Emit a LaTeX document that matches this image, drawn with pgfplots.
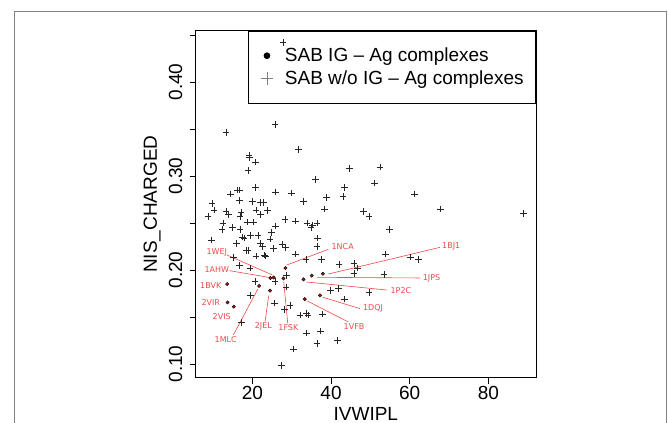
\documentclass[border=0pt]{standalone}
\usepackage{fontspec}
\setmainfont{Liberation Sans}
\newfontfamily\djv{DejaVu Sans}
\usepackage{pgfplots}
\usepackage{pgfplotstable}
\pgfplotsset{compat=1.18}

\definecolor{labred}{RGB}{238,72,72}
\definecolor{ptred}{RGB}{170,20,20}
\definecolor{framegray}{RGB}{130,130,130}

% SAB without IG - Ag complexes
\pgfplotstableread{
x y
27.8 0.442
25.8 0.355
13.3 0.3465
31.8 0.328
19.1 0.322
19.3 0.3195
20.8 0.315
18.9 0.306
44.7 0.308
52.4 0.3096
36.0 0.2965
51.0 0.2926
43.4 0.2876
61.2 0.281
14.4 0.281
16.2 0.285
16.7 0.285
20.8 0.288
25.9 0.283
29.9 0.282
38.8 0.277
43.0 0.278
33.0 0.273
38.3 0.265
67.9 0.265
48.2 0.262
49.6 0.257
88.9 0.260
16.8 0.274
20.0 0.273
22.0 0.272
22.8 0.272
9.7 0.271
10.3 0.264
8.7 0.257
13.3 0.262
13.9 0.259
17.1 0.261
20.9 0.264
22.1 0.259
23.9 0.263
16.9 0.257
12.5 0.250
12.3 0.243
15.0 0.245
16.9 0.243
18.6 0.251
20.3 0.251
25.9 0.247
24.9 0.240
28.3 0.254
30.9 0.252
33.9 0.250
35.3 0.248
36.4 0.250
34.9 0.245
54.9 0.243
9.6 0.232
17.5 0.235
17.9 0.234
19.6 0.237
21.4 0.237
15.9 0.228
22.0 0.228
22.6 0.225
24.5 0.233
25.3 0.223
27.5 0.227
28.4 0.224
36.6 0.234
36.4 0.225
18.4 0.221
18.9 0.221
23.1 0.216
23.4 0.215
20.9 0.215
15.2 0.213
30.9 0.217
33.6 0.211
37.6 0.211
45.8 0.207
42.0 0.206
53.9 0.217
60.2 0.214
62.3 0.211
46.8 0.202
45.8 0.196
53.5 0.195
16.8 0.205
19.4 0.202
20.7 0.188
25.8 0.188
28.7 0.194
28.6 0.182
39.8 0.178
41.9 0.180
49.6 0.176
43.4 0.169
19.5 0.173
25.7 0.165
28.1 0.158
29.6 0.162
32.1 0.152
33.8 0.154
34.1 0.152
37.9 0.153
17.3 0.144
33.8 0.133
37.3 0.135
36.4 0.122
41.6 0.125
30.4 0.116
27.4 0.0986
}\woig

% SAB IG - Ag complexes
\pgfplotstableread{
x y name
28.4 0.202 1NCA
37.9 0.196 1BJ1
35.1 0.194 1JPS
33.0 0.190 1P2C
37.2 0.173 1DQJ
33.3 0.169 1VFB
27.9 0.191 1FSK
24.5 0.178 2JEL
21.7 0.183 1MLC
25.4 0.192 1WEJ
24.6 0.1915 1AHW
13.6 0.185 1BVK
13.7 0.1655 2VIR
15.3 0.161 2VIS
}\ig

\begin{document}
\begin{tikzpicture}
\useasboundingbox (0,0) rectangle (668bp,423bp);
\draw[framegray, line width=1.3bp] (14.8bp,0) -- (14.8bp,411.5bp) -- (666.5bp,411.5bp) -- (666.5bp,0);
\begin{axis}[
  at={(195.7bp,45.3bp)}, anchor=south west,
  scale only axis, width=340.3bp, height=347bp,
  xmin=5.6, xmax=92.1, ymin=0.0854, ymax=0.4546,
  clip=false,
  font=\fontsize{19bp}{22bp}\selectfont,
  axis line style={line width=0.8bp},
  tick style={black, line width=0.8bp},
  tick align=outside, major tick length=6bp, minor tick length=6bp,
  xtick pos=left, ytick pos=left,
  xtick={20,40,60,80}, xticklabels={20,40,60,80},
  ytick={0.1,0.2,0.3,0.4}, yticklabels={0.10,0.20,0.30,0.40},
  minor ytick={0.15,0.25,0.35,0.45},
  xticklabel style={anchor=north, inner sep=0pt},
  xticklabel shift=2.5bp,
  yticklabel style={rotate=90, anchor=south, inner sep=0pt},
  yticklabel shift=7.2bp,
  xlabel={IVWIPL},
  ylabel={NIS\_CHARGED},
  xlabel style={at={(axis description cs:0.5,-0.104)}, anchor=center, inner sep=0pt},
  ylabel style={at={(axis description cs:-0.1283,0.5)}, anchor=center, inner sep=0pt},
  legend style={at={(1,1)}, anchor=north east, draw=black, line width=0.8bp,
    fill=none, inner xsep=12bp, inner ysep=17bp, row sep=7.5bp, column sep=11.7bp,
    font=\fontsize{19bp}{22bp}\selectfont, nodes={inner sep=0pt}},
  legend cell align=left,
  legend image code/.code={\draw[#1] plot coordinates {(0bp,0bp)};},
]
\addlegendimage{only marks, mark=*, mark size=2.9bp, black}
\addlegendentry{SAB IG -- Ag complexes}
\addlegendimage{only marks, mark=+, mark size=6.3bp, gray, line width=0.7bp}
\addlegendentry{SAB w/o IG -- Ag complexes}

\addplot[only marks, mark=+, mark size=3.3bp, black!85, line width=0.6bp, forget plot] table {\woig};
\addplot[only marks, mark=*, mark size=1.7bp, mark options={fill=ptred, draw=black, line width=0.4bp}, forget plot] table[x=x, y=y] {\ig};

% leader lines
\addplot[labred, line width=0.6bp, forget plot] coordinates {(28.74,0.2053) (39.32,0.2220)};
\addplot[labred, line width=0.6bp, forget plot] coordinates {(39.32,0.1957) (67.70,0.2241)};
\addplot[labred, line width=0.6bp, forget plot] coordinates {(36.37,0.1922) (62.62,0.1915)};
\addplot[labred, line width=0.6bp, forget plot] coordinates {(33.83,0.1872) (54.15,0.1787)};
\addplot[labred, line width=0.6bp, forget plot] coordinates {(37.89,0.1710) (47.37,0.1589)};
\addplot[labred, line width=0.6bp, forget plot] coordinates {(33.98,0.1670) (44.40,0.1447)};
\addplot[labred, line width=0.6bp, forget plot] coordinates {(27.97,0.1876) (28.99,0.1433)};
\addplot[labred, line width=0.6bp, forget plot] coordinates {(24.16,0.1727) (23.23,0.1450)};
\addplot[labred, line width=0.6bp, forget plot] coordinates {(21.36,0.1795) (15.18,0.1309)};
\addplot[labred, line width=0.6bp, forget plot] coordinates {(13.49,0.2160) (25.09,0.1947)};
\addplot[labred, line width=0.6bp, forget plot] coordinates {(14.16,0.1993) (24.16,0.1922)};

\begin{scope}[every node/.style={labred, inner sep=0pt, font=\djv\fontsize{8bp}{9bp}\selectfont}]
\node[anchor=west] at (axis cs:40.1,0.2248) {1NCA};
\node[anchor=west] at (axis cs:68.2,0.2255) {1BJ1};
\node[anchor=west] at (axis cs:63.3,0.1911) {1JPS};
\node[anchor=west] at (axis cs:55.1,0.1784) {1P2C};
\node[anchor=west] at (axis cs:48.1,0.1589) {1DQJ};
\node at (axis cs:45.85,0.1397) {1VFB};
\node at (axis cs:29.15,0.1386) {1FSK};
\node at (axis cs:22.8,0.1397) {2JEL};
\node at (axis cs:13.23,0.1262) {1MLC};
\node at (axis cs:10.95,0.2184) {1WEJ};
\node at (axis cs:10.95,0.2000) {1AHW};
\node at (axis cs:9.43,0.1837) {1BVK};
\node at (axis cs:9.43,0.1652) {2VIR};
\node at (axis cs:12.22,0.1507) {2VIS};
\end{scope}
\end{axis}
\end{tikzpicture}
\end{document}
